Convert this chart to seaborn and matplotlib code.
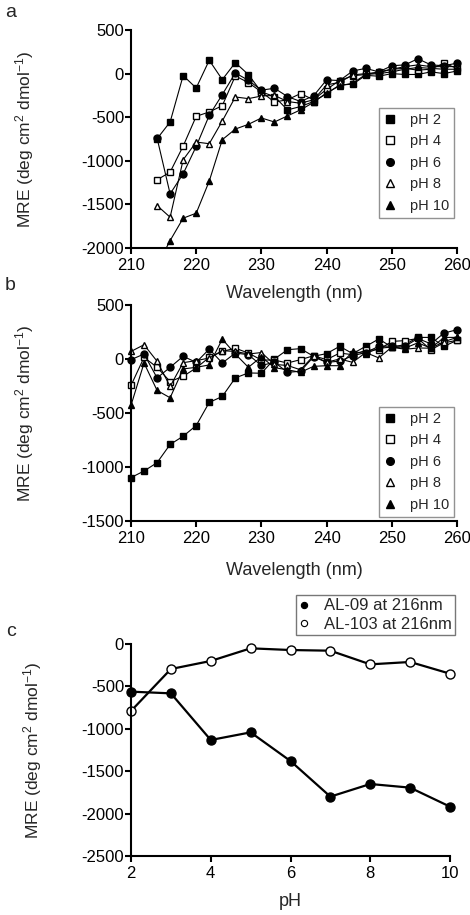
import matplotlib
matplotlib.use("Agg")
import matplotlib.pyplot as plt
from matplotlib.lines import Line2D
from matplotlib.patches import Rectangle
import seaborn as sns
import pandas as pd

# ---------------- data ----------------
wl_a = list(range(214, 262, 2))
a_ph2 = [-747, -555, -23, -165, 153, -69, 126, -11, -210, -263, -416, -378, -320, -230, -130, -122, -20, -30, 0, -10, -10, 20, 0, 30]
a_ph4 = [-1218, -1130, -831, -490, -440, -368, -27, -103, -210, -326, -300, -229, -300, -180, -80, -25, -10, 20, 50, 60, 40, 50, 120, 60]
a_ph6 = [-740, -1379, -1149, -835, -479, -241, 8, -77, -190, -168, -263, -320, -255, -72, -80, 30, 60, 20, 90, 100, 170, 100, 90, 120]
a_ph8 = [-1513, -1647, -988, -785, -804, -544, -268, -287, -257, -250, -320, -340, -300, -130, -100, -15, 0, 10, 50, 80, 100, 80, 80, 80]
a_ph10 = [-2200, -1915, -1658, -1601, -1233, -758, -636, -582, -509, -555, -485, -416, -330, -220, -140, -110, -10, 0, 20, 50, 70, 60, 50, 50]

wl_b = list(range(210, 262, 2))
b_ph2 = [-1098, -1037, -960, -791, -715, -616, -402, -347, -175, -129, -132, 0, 86, 96, 25, 50, 117, 50, 117, 185, 111, 133, 200, 200, 117, 173]
b_ph4 = [-245, 15, -77, -209, -160, -83, 15, 70, 100, 55, -9, -10, -37, -6, 30, -6, 55, 40, 80, 86, 163, 170, 190, 86, 150, 173]
b_ph6 = [-6, 46, -175, -77, 25, -31, 92, -37, 55, 40, -60, -30, -123, -114, 20, -31, -20, 30, 60, 117, 120, 117, 190, 140, 240, 271]
b_ph8 = [70, 132, -21, -254, -34, -15, 9, 77, 70, 46, 60, -50, -60, -100, 30, -30, 0, -31, 60, 10, 110, 90, 102, 100, 160, 200]
b_ph10 = [-429, -37, -291, -359, -92, -77, -55, 184, 46, -77, 20, -80, -100, -123, -68, -62, -62, 70, 50, 100, 110, 100, 150, 100, 200, 200]

ph_labels = ["pH 2", "pH 4", "pH 6", "pH 8", "pH 10"]

ph_c = [2, 3, 4, 5, 6, 7, 8, 9, 10]
al09 = [-562, -582, -1132, -1042, -1380, -1800, -1651, -1694, -1918]
al103 = [-790, -295, -200, -51, -71, -79, -240, -212, -350]
c_labels = ["AL-09 at 216nm", "AL-103 at 216nm"]

# ---------------- style ----------------
sns.set_style("ticks")
plt.rcParams["font.family"] = ["Liberation Sans", "DejaVu Sans"]
plt.rcParams["mathtext.fontset"] = "custom"
plt.rcParams["mathtext.rm"] = "Liberation Sans"
plt.rcParams["mathtext.default"] = "regular"
plt.rcParams["axes.unicode_minus"] = False
plt.rcParams["axes.linewidth"] = 1.5

W, H = 470, 915
fig = plt.figure(figsize=(W / 100, H / 100), dpi=100)


def ax_px(left, top, right, bottom):
    return fig.add_axes([left / W, 1 - bottom / H, (right - left) / W, (bottom - top) / H])


ax_a = ax_px(131, 30, 457, 248)
ax_b = ax_px(131, 305, 457, 521)
ax_c = ax_px(131, 644, 450, 856)

styles = [
    dict(marker="s", mfc="black"),
    dict(marker="s", mfc="white"),
    dict(marker="o", mfc="black"),
    dict(marker="^", mfc="white"),
    dict(marker="^", mfc="black"),
]

ylab = "MRE (deg cm$^{2}$ dmol$^{-1}$)"


def spectral(ax, wl, series, ylim, yticks, clip_ext):
    for vals, st in zip(series, styles):
        df = pd.DataFrame({"wl": wl, "mre": vals})
        sns.lineplot(data=df, x="wl", y="mre", ax=ax, color="black", lw=0.8,
                     marker=st["marker"], mfc=st["mfc"], mec="black", mew=1.0,
                     ms=5.0, errorbar=None, sort=False)
    for ln in ax.lines:
        rect = Rectangle((-0.05, clip_ext[0]), 1.1, clip_ext[1], transform=ax.transAxes)
        ln.set_clip_path(rect)
    ax.set_xlim(210, 260)
    ax.set_ylim(*ylim)
    ax.set_xticks(range(210, 261, 10))
    ax.set_yticks(yticks)
    handles = [Line2D([], [], ls="none", marker=st["marker"], mfc=st["mfc"], mec="black",
                      mew=1.0, ms=5.5, color="black") for st in styles]
    return handles


def finish(ax, xlab, xlab_y, ylab_x):
    sns.despine(ax=ax)
    ax.tick_params(axis="both", which="major", length=4, width=1.5, labelsize=12,
                   color="black", labelcolor="black")
    ax.tick_params(axis="y", pad=1)
    ax.tick_params(axis="x", pad=3)
    ax.set_xlabel(xlab, fontsize=13, va="top")
    ax.set_ylabel(ylab, fontsize=12.5)
    ax.xaxis.set_label_coords(0.5, xlab_y)
    ax.yaxis.set_label_coords(ylab_x, 0.5)
    for s in ("left", "bottom"):
        ax.spines[s].set_color("black")


def pleg(ax, h, anchor):
    leg = ax.legend(h, ph_labels, loc="upper right", bbox_to_anchor=anchor,
                    fontsize=10.5, frameon=True, fancybox=False, handlelength=1.0,
                    handletextpad=0.85, labelspacing=0.52, borderpad=0.32, borderaxespad=0)
    leg.get_frame().set_edgecolor("#777777")
    leg.get_frame().set_linewidth(1.0)


# panel a
h = spectral(ax_a, wl_a, [a_ph2, a_ph4, a_ph6, a_ph8, a_ph10], (-2000, 500),
             range(-2000, 501, 500), (0.0, 1.1))
finish(ax_a, "Wavelength (nm)", -0.17, -0.29)
pleg(ax_a, h, (0.991, 0.642))

# panel b
h = spectral(ax_b, wl_b, [b_ph2, b_ph4, b_ph6, b_ph8, b_ph10], (-1500, 500),
             range(-1500, 501, 500), (-0.05, 1.15))
finish(ax_b, "Wavelength (nm)", -0.19, -0.29)
pleg(ax_b, h, (0.991, 0.528))

# panel c
dfc = pd.DataFrame({"pH": ph_c, "AL-09": al09, "AL-103": al103})
sns.lineplot(data=dfc, x="pH", y="AL-09", ax=ax_c, color="black", lw=1.6, marker="o",
             mfc="black", mec="black", ms=6.5, mew=1.0, errorbar=None, clip_on=False)
sns.lineplot(data=dfc, x="pH", y="AL-103", ax=ax_c, color="black", lw=1.6, marker="o",
             mfc="white", mec="black", ms=6.5, mew=1.0, errorbar=None, clip_on=False)
ax_c.set_xlim(2, 10)
ax_c.set_ylim(-2500, 0)
ax_c.set_xticks(range(2, 11, 2))
ax_c.set_yticks(range(-2500, 1, 500))
finish(ax_c, "pH", -0.175, -0.273)
hc = [Line2D([], [], ls="none", marker="o", mfc="black", mec="black", ms=4.5, mew=0.8),
      Line2D([], [], ls="none", marker="o", mfc="white", mec="black", ms=4.5, mew=0.8)]
leg = ax_c.legend(hc, c_labels, loc="upper right", bbox_to_anchor=(1.016, 1.231),
                  fontsize=12, frameon=True, fancybox=False, handlelength=0.6,
                  handletextpad=0.9, labelspacing=0.2, borderpad=0.2, borderaxespad=0)
leg.get_frame().set_edgecolor("#555555")
leg.get_frame().set_linewidth(1.0)

# panel letters
fig.text(5 / W, 1 - 17 / H, "a", fontsize=14, va="baseline", ha="left")
fig.text(5 / W, 1 - 290 / H, "b", fontsize=14, va="baseline", ha="left")
fig.text(6 / W, 1 - 636 / H, "c", fontsize=14, va="baseline", ha="left")

fig.savefig("out.png", dpi=100)
